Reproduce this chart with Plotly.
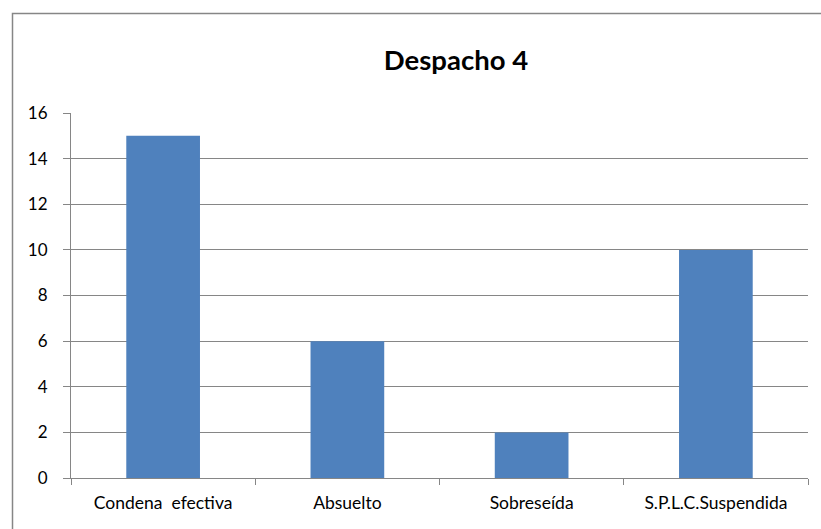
import plotly.graph_objects as go

categories = ["Condena\u00a0 efectiva", "Absuelto", "Sobreseída", "S.P.L.C.Suspendida"]
values = [15, 6, 2, 10]
y_ticks = [0, 2, 4, 6, 8, 10, 12, 14, 16]

W, H = 821, 529
L, R, T, B = 71, 808, 113, 478

fig = go.Figure(go.Bar(x=categories, y=values, marker=dict(color="#4F81BD", line=dict(width=0)),
                       width=0.4, hoverinfo="skip"))

font_family = "Lato, 'Open Sans', sans-serif"
fig.update_layout(
    width=W, height=H, autosize=False,
    margin=dict(l=L, r=W - R, t=T, b=H - B, pad=0),
    paper_bgcolor="white", plot_bgcolor="white",
    showlegend=False,
    font=dict(family=font_family, color="black", size=17),
    title=dict(text="<b>Despacho 4</b>", x=456 / W, xanchor="center", y=1 - 60 / H, yanchor="middle",
               font=dict(family=font_family, size=27.5, color="black")),
    bargap=0.6,
)
fig.update_xaxes(
    showline=True, linecolor="#868686", linewidth=1,
    ticks="outside", tickson="boundaries", ticklen=6, tickcolor="#868686",
    showgrid=False, tickfont=dict(size=17.5), ticklabelstandoff=9,
)
fig.update_yaxes(
    range=[0, 16], tickvals=y_ticks, showline=True, linecolor="#868686", linewidth=1,
    ticks="outside", ticklen=7, tickcolor="#868686",
    showgrid=True, gridcolor="#868686", gridwidth=1, zeroline=False,
    tickfont=dict(size=17), ticklabelstandoff=12,
)
fig.add_shape(type="rect", xref="paper", yref="paper",
              x0=(12.5 - L) / (R - L), x1=(830 - L) / (R - L),
              y0=(B - 540) / (B - T), y1=(B - 13.5) / (B - T),
              line=dict(color="#868686", width=1.5), fillcolor="rgba(0,0,0,0)", layer="below")
fig.write_html("out.html", config={"displayModeBar": False, "staticPlot": True},
               post_script="document.body.style.margin='0';")
